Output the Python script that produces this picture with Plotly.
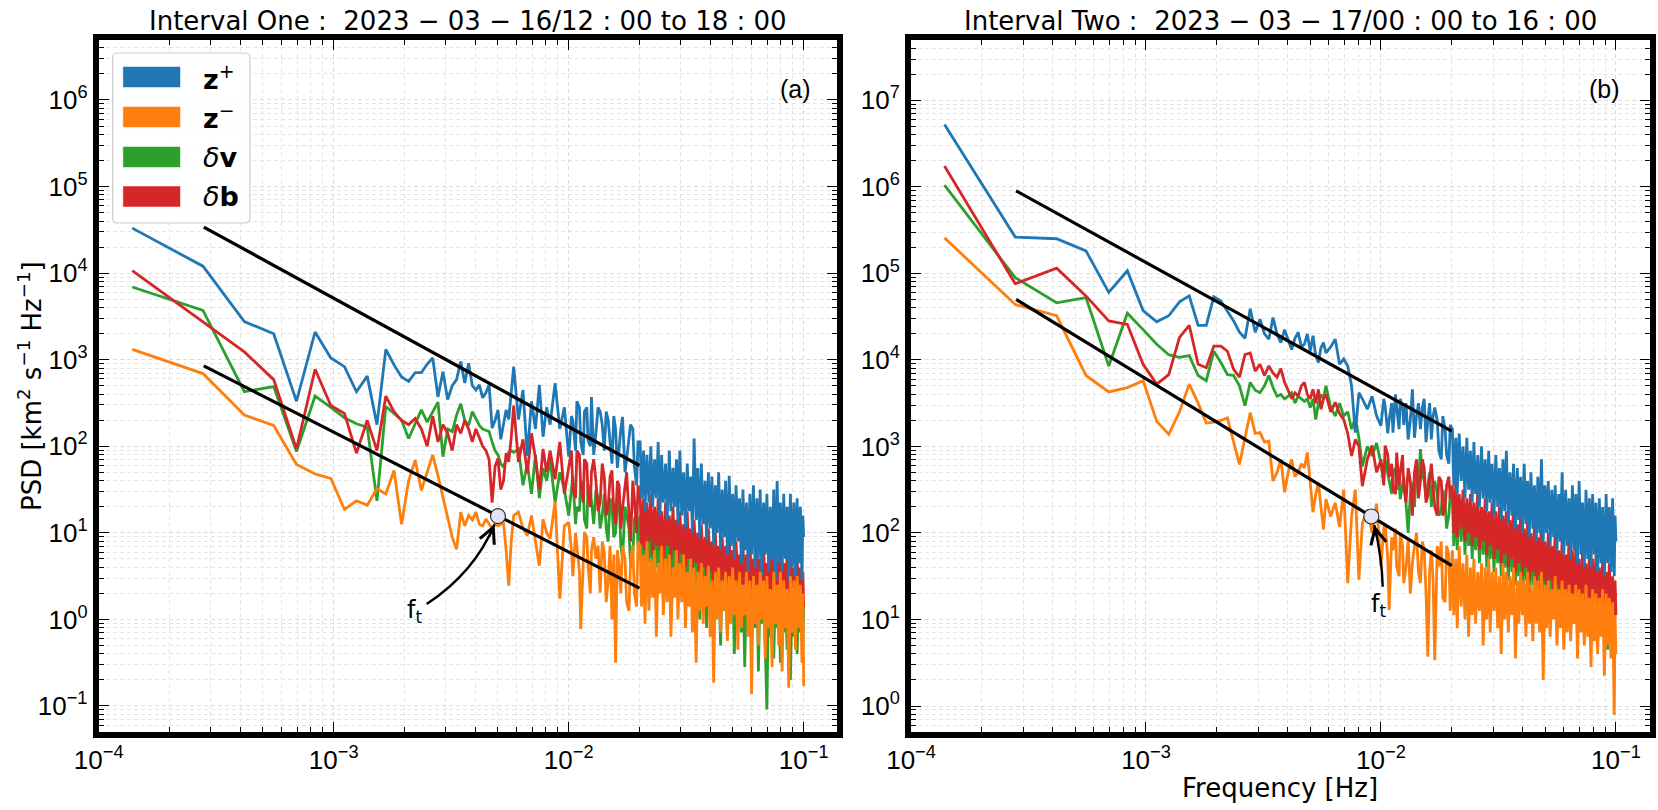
import numpy as np
import plotly.graph_objects as go

FIG_W, FIG_H = 1658, 810

# FFT resolution of the 2 h analysis windows
DF = 1.0 / 7200.0

harm_low = list(range(1, 42))
harm_mid = [
    42, 44, 46, 48, 50, 52, 54, 56, 58, 60,
    63, 66, 69, 72, 75, 78, 81, 84, 87, 90,
    94, 98, 102, 106, 110, 114, 118, 122, 127, 132,
    137, 142,
]
harm_fill = [74, 77, 80, 83, 86, 89, 92, 96, 100, 104, 108, 112, 116, 120, 125, 130, 135, 140]
harm_band = [
    145, 147, 150, 152, 155, 158, 161, 164, 167, 170,
    173, 176, 179, 182, 186, 189, 193, 196, 200, 203,
    207, 210, 214, 218, 222, 226, 230, 234, 238, 242,
    246, 251, 255, 260, 264, 269, 274, 278, 283, 288,
    293, 298, 303, 308, 313, 319, 324, 330, 335, 341,
    347, 353, 359, 365, 371, 378, 384, 391, 397, 404,
    411, 418, 425, 432, 440, 447, 455, 462, 470, 478,
    486, 494, 502, 511, 519, 528, 537, 546, 555, 564,
    573, 583, 592, 602, 612, 622, 632, 643, 654, 664,
    675, 686, 697, 708, 714, 720,
]

# ---- interval one, log10 PSD ----
zp_one_low = [
    4.52, 4.08, 3.44, 3.30, 2.52, 3.32, 3.02, 2.92, 2.63, 2.81,
    2.25, 3.12, 2.94, 2.80, 2.75, 2.85, 2.85, 2.95, 3.02, 2.57,
    2.86, 2.54, 2.70, 2.77, 2.98, 2.73, 2.96, 2.70, 2.65, 2.71,
    2.56, 2.62, 2.71, 2.21, 2.30, 2.42, 2.08, 2.25, 2.42, 2.31,
    2.60,
]
zp_one_mid = [
    2.92, 2.31, 2.65, 1.89, 2.52, 2.20, 2.71, 2.11, 2.45, 2.25,
    2.73, 2.20, 2.45, 1.88, 2.30, 2.52, 2.05, 2.40, 2.07, 2.57,
    2.15, 2.40, 1.95, 2.30, 1.80, 2.20, 2.00, 2.34, 1.85, 2.25,
    1.77, 2.05,
]
zp_one_fill = [2.35, 1.95, 2.45, 1.90, 2.45, 2.00, 1.90, 2.45, 2.25, 2.40,
               2.05, 2.35, 1.75, 2.20, 1.70, 2.10, 2.20, 1.55]
zp_one_band = [
    2.05, 1.40, 1.95, 1.25, 1.90, 1.35, 2.00, 1.30, 1.85, 1.40,
    2.05, 1.20, 1.90, 1.35, 1.80, 1.15, 1.95, 1.25, 1.75, 1.30,
    1.85, 1.10, 1.95, 1.20, 1.70, 1.05, 1.80, 1.25, 1.65, 1.00,
    2.09, 1.15, 1.75, 0.95, 1.80, 1.10, 1.60, 0.90, 1.70, 1.05,
    1.65, 0.85, 1.55, 1.00, 1.70, 0.80, 1.50, 0.95, 1.60, 0.75,
    1.66, 0.85, 1.45, 0.70, 1.55, 0.90, 1.40, 0.65, 1.50, 0.80,
    1.35, 0.55, 1.45, 0.75, 1.55, 0.60, 1.40, 0.70, 1.50, 0.50,
    1.35, 0.75, 1.45, 0.55, 1.30, 0.70, 1.50, 0.45, 1.60, 0.65,
    1.35, 0.55, 1.45, 0.70, 1.30, 0.45, 1.45, 0.60, 1.35, 0.50,
    1.40, 0.65, 1.30, 0.45, 1.20, 0.95,
]
zm_one_low = [
    3.12, 2.84, 2.36, 2.24, 1.79, 1.68, 1.63, 1.27, 1.37, 1.32,
    1.51, 1.45, 1.72, 1.10, 1.60, 1.84, 1.49, 1.70, 1.90, 1.66,
    1.40, 1.16, 0.95, 0.81, 1.24, 1.08, 1.20, 1.15, 1.24, 1.10,
    1.08, 1.16, 1.10, 1.05, 1.10, 1.08, 1.10, 1.12, 0.80, 0.39,
    0.90,
]
zm_one_mid = [
    1.20, 1.24, 1.05, 0.97, 1.20, 0.90, 0.62, 1.16, 1.00, 0.93,
    1.36, 0.24, 1.08, 1.12, 0.50, 0.85, -0.11, 1.01, 0.62, 0.80,
    0.70, 0.31, 0.78, 0.45, 0.00, -0.50, 0.60, 0.85, 0.20, 0.70,
    0.30, 0.90,
]
zm_one_fill = [0.80, 1.00, 0.55, 0.70, 0.95, 0.30, 0.95, 0.85, 0.90, 0.20,
               0.85, 0.75, 0.80, 0.30, 0.70, 0.10, 0.85, 0.15]
zm_one_band = [
    0.85, 0.15, 0.75, -0.05, 0.90, 0.10, 0.70, 0.25, 0.80, -0.20,
    0.65, 0.30, 0.85, 0.05, 0.70, 0.20, 0.75, -0.20, 0.60, 0.25,
    0.80, 0.00, 0.65, 0.20, 0.75, -0.10, 0.55, 0.15, 0.70, -0.15,
    0.60, -0.50, 0.55, 0.10, 0.65, -0.05, 0.50, 0.15, 0.62, -0.20,
    0.45, -0.73, 0.55, 0.00, 0.60, -0.15, 0.45, 0.10, 0.55, -0.25,
    0.50, -0.05, 0.60, 0.05, 0.45, -0.35, 0.55, -0.10, 0.40, 0.05,
    0.55, -0.20, 0.45, -0.86, 0.50, -0.05, 0.40, -0.30, 0.55, 0.00,
    0.45, -0.45, 0.50, -0.10, 0.35, -0.55, 0.55, -0.05, 0.40, -0.30,
    0.55, -0.60, 0.45, -0.10, 0.35, -0.79, 0.50, -0.15, 0.45, -0.35,
    0.50, -0.10, 0.40, -0.50, 0.30, -0.77,
]
dv_one_low = [
    3.84, 3.57, 2.63, 2.69, 1.94, 2.58, 2.45, 2.33, 2.26, 2.22,
    1.37, 2.46, 2.38, 2.30, 2.09, 2.26, 2.42, 2.28, 2.40, 2.51,
    1.88, 2.20, 2.17, 2.36, 2.49, 2.30, 2.24, 2.40, 2.32, 2.24,
    2.20, 2.18, 2.17, 2.05, 1.95, 1.90, 1.80, 1.76, 1.85, 1.93,
    1.95,
]
dv_one_mid = [
    1.93, 1.97, 1.55, 1.80, 1.45, 1.90, 1.40, 1.75, 1.60, 1.85,
    1.35, 1.70, 1.50, 1.20, 1.65, 1.30, 1.60, 1.15, 1.55, 1.35,
    1.50, 1.05, 1.45, 0.90, 1.30, 1.00, 1.40, 0.70, 1.20, 0.60,
    1.15, 0.85,
]
dv_one_fill = [1.55, 1.10, 1.25, 1.55, 1.05, 1.50, 1.10, 1.40, 1.20, 1.05,
               1.40, 0.95, 1.35, 0.85, 1.30, 1.05, 0.75, 1.25]
dv_one_band = [
    1.20, 0.60, 1.25, 0.55, 1.10, 0.65, 1.15, 0.50, 1.00, 0.60,
    1.10, 0.40, 1.00, 0.55, 1.05, 0.45, 0.90, 0.30, 0.95, 0.40,
    0.90, 0.25, 0.85, 0.45, 0.80, 0.15, 0.85, 0.30, 0.75, 0.10,
    0.80, 0.35, 0.70, 0.00, 0.75, 0.20, 0.65, -0.10, 0.70, 0.25,
    0.60, -0.05, 0.65, 0.15, 0.55, -0.30, 0.60, 0.10, 0.50, -0.20,
    0.55, 0.05, 0.50, -0.40, 0.55, 0.00, 0.45, -0.15, 0.50, -0.55,
    0.45, 0.05, 0.50, -0.25, 0.40, -0.10, 0.45, -0.60, 0.40, -0.05,
    0.35, -0.30, -1.04, 0.40, -0.20, 0.35, -0.45, 0.40, -0.10, 0.45,
    -0.50, 0.30, -0.15, 0.35, -0.35, 0.40, -0.70, 0.35, -0.20, 0.30,
    -0.40, 0.35, -0.15, 0.30, -0.35, 0.20,
]
db_one_low = [
    4.03, 3.44, 3.09, 2.77, 1.97, 2.89, 2.47, 2.38, 1.92, 2.30,
    1.95, 2.58, 2.40, 2.30, 2.25, 2.32, 2.20, 2.00, 2.35, 2.05,
    2.25, 2.15, 1.95, 2.25, 2.15, 2.30, 2.20, 2.05, 2.20, 2.10,
    2.00, 1.95, 1.85, 1.35, 1.77, 1.86, 1.50, 1.60, 1.92, 1.82,
    2.10,
]
db_one_mid = [
    2.47, 1.82, 2.08, 1.69, 2.15, 1.86, 1.50, 1.97, 1.70, 1.95,
    1.62, 2.05, 1.45, 1.78, 1.50, 1.95, 1.55, 1.85, 1.45, 1.70,
    1.60, 1.35, 1.65, 1.30, 1.72, 1.10, 1.55, 1.28, 1.70, 0.90,
    1.40, 1.55,
]
db_one_fill = [1.95, 1.40, 1.90, 1.35, 1.80, 1.30, 1.85, 1.25, 1.80, 1.20,
               1.65, 1.25, 1.60, 1.05, 1.50, 1.20, 1.60, 1.00]
db_one_band = [
    1.45, 0.85, 1.40, 0.80, 1.35, 0.90, 1.45, 0.75, 1.30, 0.85,
    1.40, 0.80, 1.25, 0.70, 1.35, 0.85, 1.20, 0.70, 1.30, 0.80,
    1.15, 0.65, 1.25, 0.75, 1.10, 0.60, 1.25, 0.70, 1.05, 0.55,
    1.15, 0.65, 1.00, 0.50, 1.10, 0.60, 0.95, 0.45, 1.05, 0.55,
    0.90, 0.35, 1.00, 0.50, 0.85, 0.40, 0.95, 0.45, 0.85, 0.30,
    0.95, 0.45, 0.80, 0.35, 0.90, 0.40, 0.75, 0.25, 0.85, 0.40,
    0.75, 0.30, 0.90, 0.35, 0.70, 0.20, 0.80, 0.35, 0.70, 0.25,
    0.85, 0.30, 0.65, 0.15, 0.75, 0.30, 0.80, 0.20, 0.70, 0.30,
    0.85, 0.20, 0.65, 0.30, 0.75, 0.15, 0.70, 0.30, 0.60, 0.20,
    0.70, 0.30, 0.60, 0.25, 0.55, 0.15,
]

# ---- interval two, log10 PSD ----
zp_two_low = [
    6.72, 5.42, 5.40, 5.26, 4.78, 5.03, 4.57, 4.44, 4.51, 4.67,
    4.74, 4.40, 4.40, 4.73, 4.68, 4.56, 4.45, 4.32, 4.25, 4.59,
    4.32, 4.47, 4.30, 4.24, 4.49, 4.30, 4.20, 4.35, 4.22, 4.12,
    4.25, 4.32, 4.15, 4.18, 4.30, 4.10, 4.28, 4.05, 3.97, 4.14,
    4.20,
]
zp_two_mid = [
    4.08, 4.15, 4.24, 3.95, 4.01, 3.93, 3.70, 3.16, 3.62, 3.55,
    3.43, 3.58, 3.35, 3.24, 3.47, 3.30, 3.16, 3.45, 3.55, 3.25,
    3.08, 3.66, 3.35, 3.20, 3.55, 3.30, 3.08, 3.45, 2.95, 3.35,
    2.90, 3.25,
]
zp_two_fill = [3.55, 3.15, 3.50, 3.60, 3.20, 3.45, 3.50, 3.30, 3.10, 3.50,
               3.45, 3.05, 3.50, 3.35, 3.30, 2.85, 3.20, 2.80]
zp_two_band = [
    3.20, 2.55, 3.10, 2.45, 3.15, 2.60, 3.00, 2.40, 3.10, 2.50,
    2.95, 2.35, 3.05, 2.45, 2.90, 2.30, 3.00, 2.40, 2.85, 2.25,
    2.95, 2.35, 2.80, 2.20, 2.90, 2.30, 2.75, 2.15, 2.85, 2.25,
    2.95, 2.10, 2.70, 2.20, 2.80, 2.05, 2.75, 2.15, 2.65, 2.00,
    2.80, 2.10, 2.60, 1.95, 2.70, 2.05, 2.55, 1.90, 2.65, 2.00,
    2.85, 1.90, 2.55, 2.00, 2.60, 1.85, 2.50, 1.95, 2.55, 1.80,
    2.45, 1.90, 2.70, 1.75, 2.50, 1.85, 2.40, 1.70, 2.55, 1.80,
    2.45, 1.65, 2.60, 1.75, 2.35, 1.60, 2.50, 1.70, 2.40, 1.60,
    2.45, 1.75, 2.35, 1.55, 2.40, 1.65, 2.30, 1.50, 2.45, 1.65,
    2.30, 1.55, 2.40, 1.50, 2.20, 1.90,
]
zm_two_low = [
    5.41, 4.64, 4.51, 3.82, 3.63, 3.68, 3.76, 3.29, 3.14, 3.40,
    3.72, 3.50, 3.27, 3.28, 3.30, 3.33, 3.05, 2.79, 3.10, 3.39,
    3.15, 3.16, 3.05, 3.06, 2.60, 2.70, 2.85, 2.47, 2.70, 2.85,
    2.65, 2.70, 2.80, 2.75, 2.93, 2.55, 2.24, 2.45, 2.58, 2.30,
    2.04,
]
zm_two_mid = [
    2.39, 2.19, 2.35, 2.07, 2.50, 1.42, 2.19, 2.50, 1.46, 2.11,
    2.27, 2.00, 2.34, 1.61, 2.11, 1.11, 1.80, 1.61, 2.00, 1.42,
    1.92, 1.65, 2.00, 1.42, 1.80, 0.57, 1.80, 0.53, 1.61, 1.25,
    1.85, 1.10,
]
zm_two_fill = [2.05, 1.70, 1.95, 2.05, 1.50, 1.85, 1.60, 1.30, 1.85, 1.55,
               1.90, 1.30, 1.55, 1.45, 1.85, 1.90, 1.20, 1.75]
zm_two_band = [
    1.80, 1.05, 1.70, 0.90, 1.85, 1.15, 1.65, 1.00, 1.75, 0.80,
    1.60, 1.05, 1.70, 0.95, 1.55, 1.10, 1.65, 0.70, 1.60, 1.00,
    1.70, 0.85, 1.55, 1.10, 1.60, 0.90, 1.50, 0.60, 1.65, 1.00,
    1.55, 0.85, 1.50, 1.05, 1.60, 0.55, 1.45, 0.95, 1.55, 1.05,
    1.45, 0.80, 1.55, 0.95, 1.40, 0.75, 1.50, 0.95, 1.45, 0.85,
    1.55, 0.30, 1.40, 0.90, 1.45, 0.80, 1.35, 1.00, 1.50, 0.70,
    1.35, 0.90, 1.45, 0.65, 1.35, 0.85, 1.40, 0.75, 1.30, 0.95,
    1.40, 0.55, 1.35, 0.85, 1.30, 0.70, 1.40, 0.80, 1.25, 0.45,
    1.35, 0.75, 1.30, 0.60, 1.25, 0.80, 1.35, 0.35, 1.30, 0.70,
    1.25, 0.55, 1.20, -0.10, 1.05, 0.60,
]
dv_two_low = [
    6.02, 4.95, 4.66, 4.72, 3.93, 4.54, 4.35, 4.18, 4.06, 4.03,
    4.05, 3.82, 3.76, 4.10, 3.97, 3.83, 3.82, 3.70, 3.47, 3.74,
    3.65, 3.62, 3.70, 3.82, 3.68, 3.58, 3.60, 3.55, 3.58, 3.62,
    3.50, 3.58, 3.55, 3.52, 3.55, 3.45, 3.55, 3.31, 3.50, 3.60,
    3.55,
]
dv_two_mid = [
    3.70, 3.45, 3.35, 3.50, 3.35, 3.40, 3.20, 3.33, 3.10, 2.77,
    3.00, 2.89, 3.04, 2.80, 2.85, 2.60, 2.70, 2.50, 2.39, 2.65,
    2.00, 2.58, 2.75, 2.97, 2.60, 2.54, 2.30, 2.60, 2.20, 2.50,
    2.05, 2.45,
]
dv_two_fill = [2.60, 2.70, 2.45, 2.75, 2.60, 2.55, 2.35, 2.45, 2.30, 2.55,
               2.70, 2.40, 2.70, 2.55, 2.45, 2.25, 2.35, 2.20]
dv_two_band = [
    2.45, 1.85, 2.40, 1.80, 2.35, 1.90, 2.40, 1.75, 2.30, 1.85,
    2.25, 1.70, 2.30, 1.80, 2.20, 1.65, 2.25, 1.75, 2.15, 1.60,
    2.20, 1.70, 2.10, 1.55, 2.15, 1.65, 2.05, 1.50, 2.10, 1.60,
    2.00, 1.45, 2.05, 1.55, 1.95, 1.40, 2.00, 1.50, 1.90, 1.35,
    1.95, 1.45, 1.85, 1.30, 1.90, 1.40, 1.80, 1.25, 1.85, 1.35,
    1.80, 1.20, 1.85, 1.30, 1.75, 1.15, 1.80, 1.25, 1.70, 1.10,
    1.75, 1.20, 1.65, 1.05, 1.70, 1.15, 1.60, 1.00, 1.65, 1.10,
    1.55, 0.95, 1.60, 1.05, 1.50, 0.90, 1.55, 1.00, 1.45, 0.85,
    1.50, 0.95, 1.40, 0.80, 1.45, 0.90, 1.35, 0.75, 1.40, 0.65,
    1.35, 0.80, 1.30, 0.70, 1.25, 1.30,
]
db_two_low = [
    6.24, 4.88, 5.06, 4.74, 4.45, 4.41, 3.95, 3.72, 3.83, 4.26,
    4.40, 3.95, 3.91, 4.16, 4.16, 4.10, 3.89, 3.80, 4.06, 4.08,
    3.87, 3.95, 3.82, 3.93, 3.85, 3.80, 3.90, 3.74, 3.65, 3.55,
    3.62, 3.58, 3.70, 3.74, 3.60, 3.55, 3.66, 3.50, 3.66, 3.43,
    3.55,
]
db_two_mid = [
    3.60, 3.40, 3.51, 3.38, 3.31, 3.15, 2.89, 3.08, 3.00, 2.54,
    2.85, 3.01, 2.70, 2.85, 3.01, 2.65, 2.50, 2.93, 2.70, 2.54,
    2.75, 2.20, 2.85, 2.60, 2.75, 2.43, 2.80, 2.30, 2.65, 2.20,
    2.55, 2.40,
]
db_two_fill = [2.55, 2.90, 2.80, 2.45, 2.55, 2.90, 2.35, 2.60, 2.70, 2.40,
               2.85, 2.35, 2.65, 2.55, 2.20, 2.60, 2.30, 2.65]
db_two_band = [
    2.55, 2.00, 2.60, 1.95, 2.45, 2.05, 2.50, 1.90, 2.40, 2.00,
    2.45, 1.85, 2.35, 1.95, 2.50, 1.80, 2.30, 1.90, 2.40, 1.75,
    2.25, 1.85, 2.35, 1.70, 2.25, 1.80, 2.30, 1.65, 2.20, 1.75,
    2.25, 1.60, 2.15, 1.70, 2.35, 1.55, 2.10, 1.65, 2.20, 1.50,
    2.05, 1.60, 2.15, 1.45, 2.00, 1.55, 2.10, 1.40, 1.95, 1.50,
    2.20, 1.45, 1.90, 1.35, 2.00, 1.45, 1.85, 1.30, 2.05, 1.40,
    1.80, 1.25, 1.95, 1.35, 1.75, 1.20, 2.00, 1.30, 1.80, 1.15,
    1.85, 1.25, 1.70, 1.10, 1.80, 1.20, 1.65, 1.05, 1.75, 1.15,
    1.70, 1.00, 1.75, 1.10, 1.60, 1.00, 1.70, 1.10, 1.55, 0.95,
    1.65, 1.05, 1.50, 0.95, 1.45, 1.05,
]

# power-law guide lines (start / end)
fit_x_one = [2.8e-4, 2.0e-2]
fit_upper_one = [3.4e4, 60.0]
fit_lower_one = [850.0, 2.3]
fit_x_two = [2.8e-4, 2.0e-2]
fit_upper_two = [9.0e5, 1.5e3]
fit_lower_two = [5.0e4, 42.0]

# transition frequency f_t
ft_one = (5.0e-3, 15.6)
ft_two = (9.1e-3, 155.0)

COLORS = {"zp": "#1f77b4", "zm": "#ff7f0e", "dv": "#2ca02c", "db": "#d62728"}
TITLE_FONT = "DejaVu Sans"
TICK_FONT = "Liberation Sans"

harmonics = np.array(harm_low + harm_mid + harm_fill + harm_band)
order = np.argsort(harmonics)
freq = harmonics[order] * DF


def psd(low, mid, fill, band):
    return 10.0 ** np.array(low + mid + fill + band)[order]


def px_x(x):
    return x / FIG_W


def px_y(y):
    return 1 - y / FIG_H


def sup_label(e):
    return "10<sup>%s</sup>" % (str(e).replace("-", "\u2212"))


def minor_vals(lo, hi):
    return [m * 10.0 ** e for e in range(lo, hi) for m in range(2, 10)]


def axis_style(domain, rng, major_exps, minor_lo, minor_hi):
    return dict(
        type="log",
        domain=domain,
        range=rng,
        showline=True,
        linecolor="black",
        linewidth=6,
        mirror="allticks",
        ticks="inside",
        ticklen=10,
        tickwidth=1.3,
        tickcolor="black",
        tickmode="array",
        tickvals=[10.0 ** e for e in major_exps],
        ticktext=[sup_label(e) for e in major_exps],
        tickfont=dict(family=TICK_FONT, size=26, color="black"),
        showgrid=True,
        gridcolor="#dcdcdc",
        griddash="4px,3px",
        gridwidth=0.8,
        zeroline=False,
        automargin=False,
        minor=dict(
            tickmode="array",
            tickvals=minor_vals(minor_lo, minor_hi),
            ticks="inside",
            ticklen=5,
            tickwidth=1,
            tickcolor="black",
            showgrid=True,
            gridcolor="#e5e5e5",
            griddash="4px,3px",
            gridwidth=0.8,
        ),
    )


fig = go.Figure()

panels = [
    dict(xa="x", ya="y",
         series={"dv": psd(dv_one_low, dv_one_mid, dv_one_fill, dv_one_band),
                 "db": psd(db_one_low, db_one_mid, db_one_fill, db_one_band),
                 "zp": psd(zp_one_low, zp_one_mid, zp_one_fill, zp_one_band),
                 "zm": psd(zm_one_low, zm_one_mid, zm_one_fill, zm_one_band)},
         fit_x=fit_x_one, fits=[fit_upper_one, fit_lower_one], ft=ft_one),
    dict(xa="x2", ya="y2",
         series={"dv": psd(dv_two_low, dv_two_mid, dv_two_fill, dv_two_band),
                 "db": psd(db_two_low, db_two_mid, db_two_fill, db_two_band),
                 "zp": psd(zp_two_low, zp_two_mid, zp_two_fill, zp_two_band),
                 "zm": psd(zm_two_low, zm_two_mid, zm_two_fill, zm_two_band)},
         fit_x=fit_x_two, fits=[fit_upper_two, fit_lower_two], ft=ft_two),
]

for p in panels:
    for key in ["dv", "db", "zp", "zm"]:
        fig.add_trace(go.Scatter(
            x=freq, y=p["series"][key], mode="lines",
            line=dict(color=COLORS[key], width=2.8),
            xaxis=p["xa"], yaxis=p["ya"], showlegend=False, hoverinfo="skip",
        ))
    for fy in p["fits"]:
        fig.add_trace(go.Scatter(
            x=p["fit_x"], y=fy, mode="lines", line=dict(color="black", width=3.2),
            xaxis=p["xa"], yaxis=p["ya"], showlegend=False, hoverinfo="skip",
        ))
    fig.add_trace(go.Scatter(
        x=[p["ft"][0]], y=[p["ft"][1]], mode="markers",
        marker=dict(size=15, color="#e3e3f4", line=dict(color="#333333", width=1.2)),
        xaxis=p["xa"], yaxis=p["ya"], showlegend=False, hoverinfo="skip",
    ))

# plot areas in pixels: left [98.7, 837.3], right [911, 1650], vertical [40, 731.7]
y_dom = [px_y(731.7), px_y(40.0)]
fig.update_layout(
    xaxis=axis_style([px_x(98.7), px_x(837.3)], [-4, -0.857], [-4, -3, -2, -1], -4, 0),
    yaxis=axis_style(y_dom, [-1.297, 6.693], list(range(-1, 7)), -2, 7),
    xaxis2=axis_style([px_x(911.0), px_x(1650.0)], [-4, -0.855], [-4, -3, -2, -1], -4, 0),
    yaxis2=axis_style(y_dom, [-0.297, 7.697], list(range(0, 8)), -1, 8),
)
fig.layout.xaxis.anchor = "y"
fig.layout.yaxis.anchor = "x"
fig.layout.xaxis2.anchor = "y2"
fig.layout.yaxis2.anchor = "x2"

annotations = []
shapes = []

# panel titles
for xa, txt in [("x", "Interval One :  2023 \u2212 03 \u2212 16/12 : 00 to 18 : 00"),
                ("x2", "Interval Two :  2023 \u2212 03 \u2212 17/00 : 00 to 16 : 00")]:
    annotations.append(dict(
        xref=xa + " domain", yref="paper", x=0.5, y=px_y(38), xanchor="center", yanchor="bottom",
        text=txt.replace("  ", "\u00a0 "), showarrow=False,
        font=dict(family=TITLE_FONT, size=26, color="black"),
    ))

# panel letters
for xa, ya, txt, xd in [("x", "y", "(a)", 0.943), ("x2", "y2", "(b)", 0.939)]:
    annotations.append(dict(
        xref=xa + " domain", yref=ya + " domain", x=xd, y=0.929, text=txt, showarrow=False,
        xanchor="center", yanchor="middle", font=dict(family=TICK_FONT, size=25, color="black"),
    ))

# axis titles
annotations.append(dict(
    xref="paper", yref="paper", x=px_x(30), y=px_y(386), textangle=-90,
    text="PSD [km<sup>2</sup> s<sup>\u22121</sup> Hz<sup>\u22121</sup>]", showarrow=False,
    xanchor="center", yanchor="middle", font=dict(family=TITLE_FONT, size=26, color="black"),
))
annotations.append(dict(
    xref="paper", yref="paper", x=px_x(1280), y=px_y(788), text="Frequency [Hz]", showarrow=False,
    xanchor="center", yanchor="middle", font=dict(family=TITLE_FONT, size=26, color="black"),
))

# f_t labels with curved arrows (domain coordinates of each panel)
ft_marks = [
    dict(xa="x", ya="y", label=(0.427, 0.174), p0=(0.4441, 0.1846), c=(0.5086, 0.2301),
         tip=(0.5360, 0.3000), tail=(-6, 14)),
    dict(xa="x2", ya="y2", label=(0.633, 0.182), p0=(0.6383, 0.2096), c=(0.6374, 0.2518),
         tip=(0.6269, 0.2988), tail=(3, 13)),
]
for m in ft_marks:
    annotations.append(dict(
        xref=m["xa"] + " domain", yref=m["ya"] + " domain", x=m["label"][0], y=m["label"][1],
        text="f<sub>t</sub>", showarrow=False, xanchor="center", yanchor="middle",
        font=dict(family=TITLE_FONT, size=24, color="black"),
    ))
    shapes.append(dict(
        type="path", xref=m["xa"] + " domain", yref=m["ya"] + " domain",
        path="M %.4f,%.4f Q %.4f,%.4f %.4f,%.4f" % (m["p0"] + m["c"] + m["tip"]),
        line=dict(color="black", width=2.4),
    ))
    annotations.append(dict(
        xref=m["xa"] + " domain", yref=m["ya"] + " domain", x=m["tip"][0], y=m["tip"][1],
        ax=m["tail"][0], ay=m["tail"][1], text="", showarrow=True, arrowhead=5,
        arrowsize=1.4, arrowwidth=2.2, arrowcolor="black", standoff=0,
    ))

# legend drawn by hand (patches + labels) in pixel space
x0, y0, x1, y1 = 112.7, 53.0, 250.0, 223.0
r = 5.0
pts = [
    "M %.5f,%.5f" % (px_x(x0 + r), px_y(y0)),
    "L %.5f,%.5f" % (px_x(x1 - r), px_y(y0)),
    "Q %.5f,%.5f %.5f,%.5f" % (px_x(x1), px_y(y0), px_x(x1), px_y(y0 + r)),
    "L %.5f,%.5f" % (px_x(x1), px_y(y1 - r)),
    "Q %.5f,%.5f %.5f,%.5f" % (px_x(x1), px_y(y1), px_x(x1 - r), px_y(y1)),
    "L %.5f,%.5f" % (px_x(x0 + r), px_y(y1)),
    "Q %.5f,%.5f %.5f,%.5f" % (px_x(x0), px_y(y1), px_x(x0), px_y(y1 - r)),
    "L %.5f,%.5f" % (px_x(x0), px_y(y0 + r)),
    "Q %.5f,%.5f %.5f,%.5f Z" % (px_x(x0), px_y(y0), px_x(x0 + r), px_y(y0)),
]
shapes.append(dict(type="path", xref="paper", yref="paper", path=" ".join(pts),
                   fillcolor="rgba(255,255,255,0.85)", line=dict(color="#cccccc", width=1.2)))

legend_items = [
    ("zp", "<b>z</b><sup>+</sup>", 77),
    ("zm", "<b>z</b><sup>\u2212</sup>", 117),
    ("dv", "<i>\u03b4</i><b>v</b>", 157),
    ("db", "<i>\u03b4</i><b>b</b>", 196.5),
]
for key, label, yc in legend_items:
    shapes.append(dict(type="rect", xref="paper", yref="paper",
                       x0=px_x(123.3), x1=px_x(180.0), y0=px_y(yc + 10), y1=px_y(yc - 10),
                       fillcolor=COLORS[key], line=dict(color=COLORS[key], width=0.5)))
    annotations.append(dict(
        xref="paper", yref="paper", x=px_x(201), y=px_y(yc), text=label, showarrow=False,
        xanchor="left", yanchor="middle", font=dict(family=TITLE_FONT, size=27, color="black"),
    ))

fig.update_layout(
    width=FIG_W,
    height=FIG_H,
    autosize=False,
    margin=dict(l=0, r=0, t=0, b=0),
    paper_bgcolor="white",
    plot_bgcolor="white",
    showlegend=False,
    annotations=annotations,
    shapes=shapes,
)

fig.write_html("out.html", config={"displayModeBar": False},
               post_script="document.body.style.margin='0px';")
